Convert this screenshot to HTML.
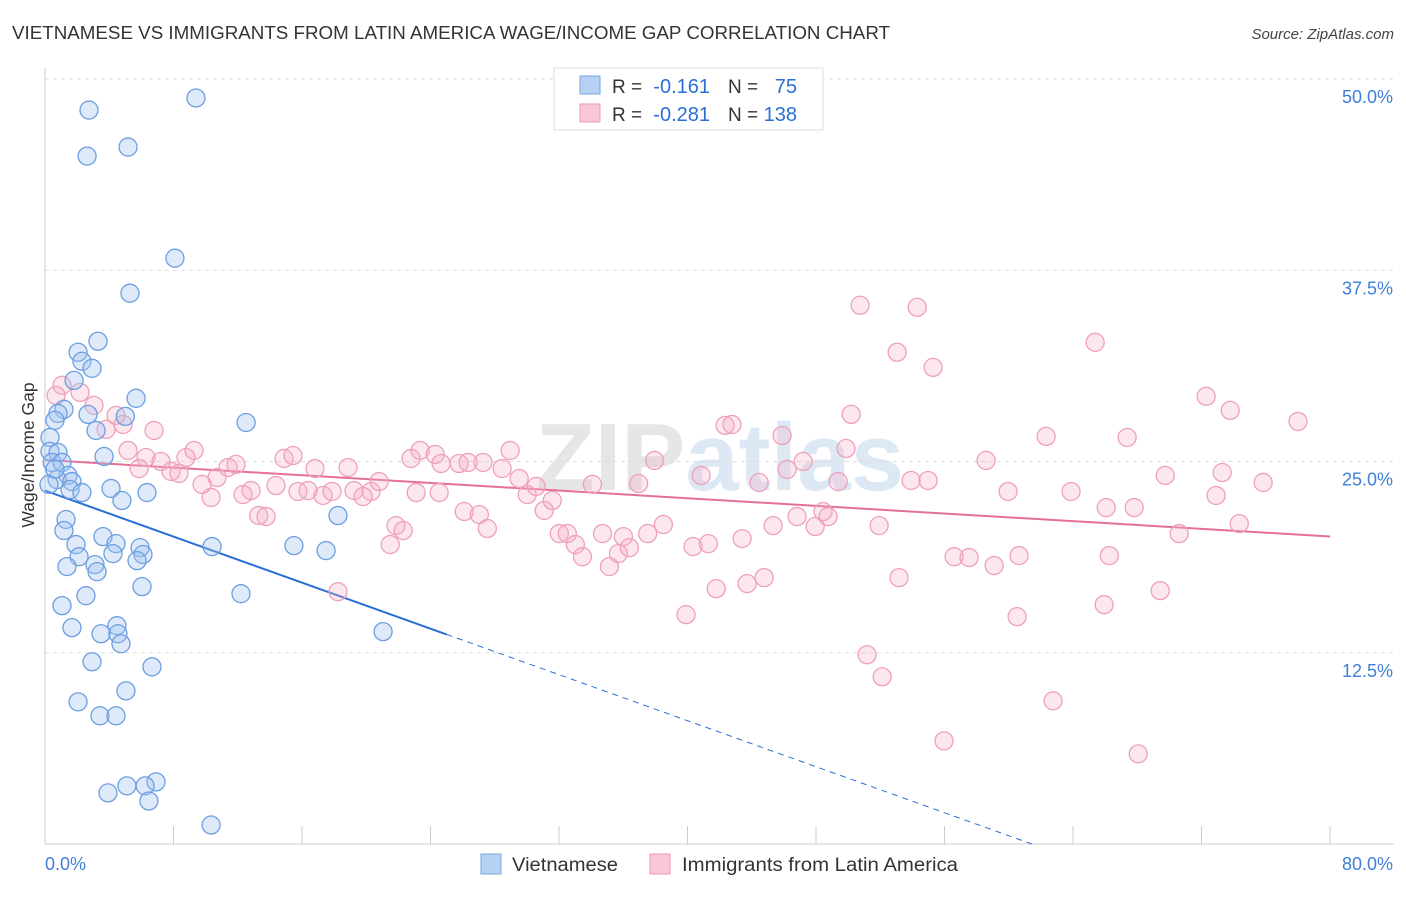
<!DOCTYPE html>
<html><head><meta charset="utf-8"><style>
body{margin:0;background:#fff;font-family:"Liberation Sans",sans-serif;}
svg text{font-family:"Liberation Sans",sans-serif;}
</style></head><body>
<svg id="chart" width="1406" height="892" xmlns="http://www.w3.org/2000/svg">
<text x="12" y="39" font-size="18" fill="#333" textLength="878" lengthAdjust="spacingAndGlyphs">VIETNAMESE VS IMMIGRANTS FROM LATIN AMERICA WAGE/INCOME GAP CORRELATION CHART</text>
<text x="1394" y="39" font-size="15" fill="#444" text-anchor="end" font-style="italic">Source: ZipAtlas.com</text>
<text x="720" y="490" font-size="96" fill="#e6e6e6" text-anchor="middle" font-weight="bold">ZIP<tspan fill="#dde8f5">atlas</tspan></text>
<text transform="translate(34,455) rotate(-90)" font-size="17.5" fill="#333" text-anchor="middle">Wage/Income Gap</text>
<g id="grid"></g><g id="axes"></g><g id="trends"></g><g id="pts"></g>
<g>
<rect x="554" y="68" width="269" height="62" fill="#fff" stroke="#ddd"/>
<rect x="580" y="76" width="20" height="18" fill="#b7d1f4" stroke="#7aa7e0"/>
<rect x="580" y="104" width="20" height="18" fill="#f9c8d8" stroke="#ec9ab5"/>
<text x="612" y="93" font-size="19" fill="#333">R =</text>
<text x="710" y="93" font-size="20" fill="#2a6fd6" text-anchor="end">-0.161</text>
<text x="728" y="93" font-size="19" fill="#333">N =</text>
<text x="797" y="93" font-size="20" fill="#2a6fd6" text-anchor="end">75</text>
<text x="612" y="121" font-size="19" fill="#333">R =</text>
<text x="710" y="121" font-size="20" fill="#2a6fd6" text-anchor="end">-0.281</text>
<text x="728" y="121" font-size="19" fill="#333">N =</text>
<text x="797" y="121" font-size="20" fill="#2a6fd6" text-anchor="end">138</text>
</g>
<g>
<rect x="481" y="854" width="20" height="20" fill="#b7d1f4" stroke="#7aa7e0"/>
<text x="512" y="871" font-size="19" fill="#333" textLength="106" lengthAdjust="spacingAndGlyphs">Vietnamese</text>
<rect x="650" y="854" width="20" height="20" fill="#f9c8d8" stroke="#ec9ab5"/>
<text x="682" y="871" font-size="19" fill="#333" textLength="276" lengthAdjust="spacingAndGlyphs">Immigrants from Latin America</text>
</g>
</svg>
<script>
const yTicks=[12.5,25.0,37.5,50.0];
const yTickLabels=["12.5%","25.0%","37.5%","50.0%"];
const xTicks=[0,8,16,24,32,40,48,56,64,72,80];
const xEndLabels=["0.0%","80.0%"];
const blueX=[2.74,9.40,2.62,5.17,8.09,5.29,3.30,2.06,2.30,2.93,1.81,5.67,1.18,0.81,2.68,5.0,0.62,3.18,12.52,0.31,0.31,0.81,3.68,0.44,1.06,1.43,0.75,1.68,1.56,2.30,4.11,6.35,4.79,18.24,1.31,1.18,3.61,1.93,4.42,5.92,10.40,15.50,17.50,2.12,4.23,6.10,5.73,3.11,1.37,3.24,6.04,2.55,12.20,1.06,1.68,4.48,3.49,4.54,4.73,21.05,2.93,6.66,5.04,2.06,3.42,4.42,5.10,6.91,3.92,6.23,6.47,10.34,0.25,0.62];
const blueY=[47.97,48.76,44.96,45.55,38.29,36.0,32.86,32.14,31.55,31.09,30.30,29.13,28.41,28.14,28.08,27.95,27.69,27.03,27.55,26.57,25.66,25.59,25.33,24.94,24.94,24.09,23.82,23.69,23.17,22.97,23.24,22.97,22.45,21.47,21.21,20.49,20.09,19.57,19.63,19.37,19.44,19.50,19.18,18.78,18.98,18.92,18.52,18.26,18.13,17.80,16.82,16.23,16.36,15.58,14.14,14.27,13.74,13.74,13.09,13.88,11.91,11.58,10.01,9.29,8.38,8.38,3.80,4.06,3.34,3.80,2.81,1.24,23.5,24.5];
const pinkX=[1.06,2.18,0.69,3.05,4.42,3.80,4.86,6.79,5.17,6.29,7.22,8.78,9.28,5.86,7.85,8.34,10.71,11.40,11.89,9.78,10.34,12.33,12.83,13.31,13.76,14.38,14.88,15.44,15.75,16.38,16.81,17.31,17.87,18.87,19.24,20.30,20.80,19.80,21.85,22.30,21.49,18.24,22.79,23.36,24.29,24.66,25.78,26.34,27.27,23.11,24.54,26.10,27.04,27.54,28.46,28.96,29.52,30.02,30.58,31.08,31.58,32.02,32.52,33.02,33.46,34.08,34.71,35.14,35.70,36.01,36.38,36.96,37.52,37.95,38.50,39.91,40.35,40.85,41.30,41.79,42.34,42.77,43.40,43.71,44.77,44.46,45.33,45.89,46.20,46.82,47.20,47.95,48.44,48.75,49.38,49.87,50.19,50.75,51.18,51.93,52.12,53.05,53.17,53.92,54.30,54.98,55.29,55.97,56.60,57.53,58.59,59.09,59.96,60.52,60.64,62.33,62.76,63.88,65.38,66.07,66.26,65.94,67.37,67.81,68.06,69.43,69.74,70.61,72.29,72.91,73.29,73.79,74.35,75.84,78.01];
const pinkY=[29.98,29.52,29.32,28.67,28.01,27.10,27.42,27.03,25.72,25.26,25.00,25.26,25.72,24.54,24.35,24.22,23.95,24.61,24.81,23.50,22.65,22.84,23.10,21.47,21.40,23.43,25.20,25.39,23.04,23.10,24.54,22.78,23.04,24.61,23.10,23.04,23.69,22.71,20.81,20.49,19.57,16.49,25.20,25.72,25.46,24.87,24.87,24.94,24.94,22.97,22.97,21.73,21.53,20.62,24.54,25.72,23.89,22.84,23.37,21.80,22.45,20.29,20.29,19.57,18.78,23.50,20.29,18.13,18.98,20.09,19.37,23.56,20.29,25.07,20.88,14.99,19.44,24.09,19.63,16.69,27.36,27.42,19.96,17.02,17.41,23.63,20.81,26.70,24.48,21.40,25.00,20.75,21.73,21.40,23.69,25.85,28.08,35.21,12.37,20.81,10.93,32.14,17.41,23.76,35.08,23.76,31.15,6.74,18.78,18.72,25.07,18.20,23.04,14.86,18.85,26.64,9.36,23.04,32.79,21.99,18.85,15.64,26.57,21.99,5.89,16.56,24.09,20.29,29.26,22.78,24.28,28.34,20.94,23.63,27.62];
const blueTrend=[23.1,-0.376]; // intercept, slope
const blueSolidEnd=25;
const pinkTrend=[25.1,-0.0625];

const NS="http://www.w3.org/2000/svg";
const X0=45,X1=1330,Y0=844,Y1=79;
const sx=v=>X0+(X1-X0)*v/80;
const sy=v=>Y0-(Y0-Y1)*v/50;
function mk(tag,attrs,parent){const e=document.createElementNS(NS,tag);for(const k in attrs)e.setAttribute(k,attrs[k]);parent.appendChild(e);return e;}
const grid=document.getElementById('grid'),axes=document.getElementById('axes'),trends=document.getElementById('trends'),pts=document.getElementById('pts');
yTicks.forEach((t,i)=>{
  const l=mk('line',{x1:X0,x2:1394,y1:sy(t),y2:sy(t),stroke:'#ddd','stroke-dasharray':'4,4'},grid);
  
  
  const tx=mk('text',{x:1393,y:sy(t)+24,'font-size':18,fill:'#3f7fd8','text-anchor':'end'},grid);
  tx.textContent=yTickLabels[i];
  
  
});
const ax=mk('line',{x1:X0,x2:X0,y1:68,y2:Y0,stroke:'#ccc'},axes);


const bx=mk('line',{x1:X0,x2:1394,y1:Y0,y2:Y0,stroke:'#ccc'},axes);


xTicks.forEach(t=>{
  const l=mk('line',{x1:sx(t),x2:sx(t),y1:Y0,y2:Y0-18,stroke:'#ccc'},axes);
  
  
});
[[0,'start'],[80,'end']].forEach((p,i)=>{
  const tx=mk('text',{x:i?1393:45,y:870,'font-size':18,fill:'#3f7fd8','text-anchor':p[1]},axes);
  tx.textContent=xEndLabels[i];
  
  
});
function drawPts(xs,ys,fill,stroke,name){
  xs.forEach((x,i)=>{
    const c=mk('circle',{cx:sx(x),cy:sy(ys[i]),r:9,fill:fill,stroke:stroke,'stroke-width':1.3},pts);
    
    
  });
}
drawPts(pinkX,pinkY,'rgba(246,175,199,0.3)','#eea0ba','latin-america-point');
drawPts(blueX,blueY,'rgba(160,196,240,0.35)','#6c9ee0','vietnamese-point');
const bz=-blueTrend[0]/blueTrend[1];
const b1=mk('line',{x1:sx(0),y1:sy(blueTrend[0]),x2:sx(blueSolidEnd),y2:sy(blueTrend[0]+blueTrend[1]*blueSolidEnd),stroke:'#2a6fd6','stroke-width':2},trends);


const b2=mk('line',{x1:sx(blueSolidEnd),y1:sy(blueTrend[0]+blueTrend[1]*blueSolidEnd),x2:sx(bz),y2:sy(0),stroke:'#2a6fd6','stroke-width':1,'stroke-dasharray':'6,5'},trends);


const p1=mk('line',{x1:sx(0),y1:sy(pinkTrend[0]),x2:sx(80),y2:sy(pinkTrend[0]+pinkTrend[1]*80),stroke:'#e4709a','stroke-width':2},trends);


</script>
</body></html>
